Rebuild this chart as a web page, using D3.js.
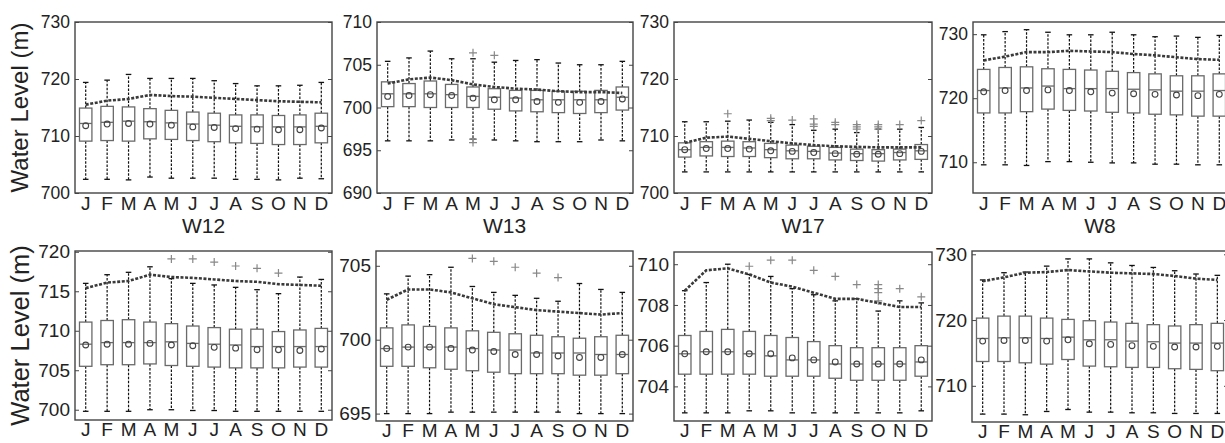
<!DOCTYPE html>
<html>
<head>
<meta charset="utf-8">
<script src="https://cdn.jsdelivr.net/npm/d3@7"></script>
<style>
  body { margin: 0; background: #fff; }
  text { font-family: "Liberation Sans", Arial, Helvetica, sans-serif; fill: #222; }
</style>
</head>
<body>
<svg id="chart" width="1225" height="443"></svg>
<script>
// month labels and well names
var months = ["J","F","M","A","M","J","J","A","S","O","N","D"];
var wells = ["W12","W13","W17","W8","W12","W13","W17","W8"];

// y axis ranges and ticks per panel (top row first, then bottom row)
var yDomains = [[700,730],[690,710],[700,730],[705.2,731.9],[698.7,720.1],[694.5,706],[702.3,710.6],[704.5,730.5]];
var yTicks = [[700,710,720,730],[690,695,700,705,710],[700,710,720,730],[710,720,730],
              [700,705,710,715,720],[695,700,705],[704,706,708,710],[710,720,730]];

// box statistics, one row of 12 months per panel
var whiskerHigh = [
  [719.4,719.8,720.8,720.1,720.1,720.1,719.7,719.2,718.8,718.8,718.9,719.4],
  [705.4,705.8,706.6,705.7,705.7,705.3,705.5,705.6,705.2,705.0,705.0,705.4],
  [712.5,712.5,712.6,712.8,712.4,712.0,711.0,711.2,710.6,711.2,711.2,711.5],
  [729.9,730.4,730.7,730.3,729.9,729.9,730.3,729.9,729.6,729.7,729.5,729.8],
  [716.0,717.1,717.4,718.1,716.6,716.0,715.8,715.5,715.2,714.7,716.8,716.5],
  [703.1,704.3,704.4,704.9,703.6,703.2,703.0,702.8,702.6,703.8,703.4,703.2],
  [708.7,709.1,710.0,709.5,709.4,708.8,708.5,708.2,708.3,707.7,708.2,708.1],
  [726.1,727.2,727.3,728.2,729.3,729.3,728.7,728.3,728.0,727.5,727.0,726.8]
];
var q3 = [
  [714.9,715.2,715.1,714.8,714.5,714.2,714.0,713.7,713.7,713.6,713.7,714.0],
  [703.0,702.8,703.1,702.7,702.4,702.2,702.0,702.0,701.9,701.9,702.0,702.4],
  [708.8,709.0,709.1,709.0,708.7,708.4,708.2,708.0,707.7,707.6,707.7,708.5],
  [724.5,724.8,724.9,724.6,724.5,724.4,724.2,724.0,723.8,723.5,723.5,723.8],
  [711.1,711.3,711.4,711.1,710.9,710.6,710.4,710.2,710.2,709.9,710.1,710.3],
  [700.8,701.0,700.9,700.8,700.6,700.5,700.4,700.3,700.2,700.1,700.2,700.3],
  [706.5,706.7,706.8,706.7,706.5,706.4,706.2,706.0,705.9,705.9,705.9,706.0],
  [720.3,720.6,720.6,720.3,720.1,719.9,719.7,719.5,719.3,719.1,719.3,719.5]
];
var medians = [
  [712.2,712.4,712.6,712.5,712.3,712.1,711.9,711.7,711.6,711.6,711.6,711.7],
  [701.6,701.6,701.6,701.5,701.3,701.2,701.1,700.9,700.9,700.9,700.9,701.2],
  [707.6,708.0,708.0,707.9,707.6,707.4,707.3,707.0,706.9,706.9,707.1,707.4],
  [721.2,721.6,721.6,721.9,721.5,721.5,721.5,721.4,721.3,721.1,721.1,721.2],
  [708.3,708.5,708.5,708.5,708.6,708.4,708.3,708.2,708.0,708.0,708.0,708.0],
  [699.4,699.5,699.5,699.5,699.4,699.3,699.3,699.1,699.1,699.1,699.0,699.0],
  [705.6,705.7,705.7,705.6,705.5,705.3,705.3,705.1,705.1,705.1,705.1,705.2],
  [717.2,717.3,717.3,717.2,717.4,717.0,717.0,716.8,716.7,716.5,716.5,716.5]
];
var means = [
  [711.8,712.1,712.2,712.1,711.9,711.6,711.5,711.3,711.2,711.1,711.1,711.4],
  [701.3,701.4,701.5,701.4,701.1,700.9,700.9,700.7,700.6,700.6,700.7,701.0],
  [707.6,707.8,707.8,707.7,707.4,707.3,707.1,706.9,706.8,706.8,706.9,707.3],
  [721.0,721.2,721.2,721.3,721.2,721.0,720.8,720.7,720.6,720.5,720.4,720.6],
  [708.2,708.3,708.3,708.4,708.2,708.1,707.9,707.8,707.6,707.6,707.5,707.7],
  [699.4,699.5,699.5,699.4,699.3,699.2,699.0,699.0,698.9,698.8,698.8,699.0],
  [705.6,705.7,705.7,705.6,705.6,705.4,705.3,705.2,705.1,705.1,705.1,705.3],
  [716.8,716.9,716.9,716.8,717.0,716.4,716.3,716.1,716.0,715.9,715.9,716.0]
];
var q1 = [
  [709.1,709.2,709.1,709.5,709.4,709.2,709.0,708.8,708.7,708.5,708.5,708.8],
  [700.1,700.1,700.0,700.0,700.0,699.8,699.6,699.5,699.4,699.3,699.4,699.7],
  [706.3,706.5,706.4,706.4,706.2,706.0,706.0,705.8,705.7,705.6,705.8,705.9],
  [717.7,717.7,717.9,718.3,718.1,718.0,717.8,717.7,717.5,717.4,717.2,717.2],
  [705.5,705.7,705.7,705.8,705.6,705.5,705.4,705.3,705.3,705.3,705.4,705.4],
  [698.2,698.2,698.1,698.0,697.9,697.8,697.7,697.7,697.7,697.6,697.6,697.7],
  [704.6,704.6,704.6,704.6,704.5,704.5,704.5,704.4,704.3,704.3,704.3,704.5],
  [713.7,713.7,713.5,713.3,714.0,713.0,712.9,712.8,712.8,712.6,712.5,712.3]
];
var whiskerLow = [
  [702.4,702.4,702.3,702.8,702.6,702.6,702.6,702.4,702.4,702.3,702.6,702.5],
  [696.1,696.1,696.1,696.2,696.3,696.2,696.1,696.0,696.0,696.0,696.2,696.1],
  [703.7,703.7,703.7,703.7,703.7,703.7,703.7,703.7,703.7,703.7,703.7,703.7],
  [709.6,709.6,709.5,710.1,710.1,710.0,709.9,709.9,709.7,709.7,709.6,709.6],
  [699.8,699.8,699.8,700.0,700.0,699.9,699.9,699.8,699.8,699.8,699.8,699.8],
  [695.0,695.0,695.0,695.1,695.1,695.1,695.1,695.1,695.1,695.0,695.0,695.0],
  [702.7,702.7,702.7,702.8,702.8,702.7,702.7,702.7,702.7,702.7,702.7,702.8],
  [705.7,705.7,705.6,706.1,706.4,706.0,706.0,705.9,705.9,705.8,705.8,705.8]
];
// dashed monthly curve drawn over the boxes
var trend = [
  [715.5,716.2,716.5,717.2,717.0,716.9,716.7,716.5,716.3,716.1,716.0,715.9],
  [702.8,703.3,703.5,703.2,702.7,702.4,702.2,702.1,701.9,701.8,701.8,701.7],
  [708.8,709.7,709.9,709.5,709.1,708.7,708.4,708.2,708.1,708.0,708.0,708.0],
  [725.9,726.5,727.2,727.2,727.4,727.3,727.2,726.9,726.7,726.4,726.1,726.0],
  [715.4,716.1,716.3,717.1,716.8,716.7,716.5,716.3,716.2,715.9,715.8,715.7],
  [702.7,703.4,703.4,703.2,702.8,702.4,702.2,702.0,701.9,701.8,701.7,701.8],
  [708.7,709.7,709.8,709.5,709.1,708.9,708.6,708.3,708.3,708.1,707.9,707.9],
  [725.9,726.5,727.2,727.3,727.6,727.4,727.2,727.1,727.0,726.7,726.3,726.1]
];
// outliers as [month index, value]
var outliers = [
  [],
  [[4,706.4],[4,696.3],[4,695.9],[5,706.1]],
  [[2,713.9],[4,713.1],[4,712.7],[5,712.8],[6,713.0],[6,712.1],[6,711.7],[7,712.4],[7,712.0],
   [8,712.0],[8,711.6],[8,711.2],[9,712.0],[9,711.6],[9,711.2],[10,712.0],[11,712.7]],
  [],
  [[4,719.1],[5,719.1],[6,718.7],[7,718.2],[8,717.9],[9,717.3]],
  [[4,705.5],[5,705.3],[6,704.9],[7,704.5],[8,704.2]],
  [[3,709.9],[4,710.2],[5,710.2],[6,709.7],[7,709.4],[8,709.0],[9,709.0],[9,708.8],[9,708.6],[9,708.2],[10,708.8],[11,708.4]],
  []
];

// panel frames in pixels
var frames = [
  {x0: 75, x1: 332, y0: 22, y1: 193, row: 0},
  {x0: 377, x1: 633, y0: 22, y1: 193, row: 0},
  {x0: 674, x1: 932, y0: 22, y1: 193, row: 0},
  {x0: 973, x1: 1230, y0: 22, y1: 193, row: 0},
  {x0: 75, x1: 332, y0: 251, y1: 420, row: 1},
  {x0: 376, x1: 633, y0: 251, y1: 421, row: 1},
  {x0: 674, x1: 932, y0: 252, y1: 421, row: 1},
  {x0: 972, x1: 1228, y0: 251, y1: 422, row: 1}
];
var rowFont = [
  {tick: 17.5, month: 19, ylab: 24, pad: 4},
  {tick: 19, month: 19, ylab: 25.5, pad: 2}
];

var svg = d3.select("#chart");
var boxColor = "#6a6a6a";

frames.forEach(function (f, p) {
  var fs = rowFont[f.row];
  var x = d3.scaleBand().domain(d3.range(12)).range([f.x0, f.x1]).padding(0);
  var y = d3.scaleLinear().domain(yDomains[p]).range([f.y1, f.y0]);
  var bw = x.bandwidth();
  var cx = function (i) { return x(i) + bw / 2; };
  var g = svg.append("g");

  // y axis, ticks pointing inward on both sides
  var yl = g.append("g").attr("transform", "translate(" + f.x0 + ",0)")
    .call(d3.axisLeft(y).tickValues(yTicks[p]).tickSizeInner(-4).tickSizeOuter(0).tickPadding(5));
  yl.select(".domain").remove();
  yl.selectAll("line").attr("stroke", "#444");
  yl.selectAll("text").style("font-size", fs.tick + "px").attr("fill", "#222");
  var yr = g.append("g").attr("transform", "translate(" + f.x1 + ",0)")
    .call(d3.axisRight(y).tickValues(yTicks[p]).tickSizeInner(-4).tickSizeOuter(0).tickFormat(""));
  yr.select(".domain").remove();
  yr.selectAll("line").attr("stroke", "#444");

  // month labels
  var xa = g.append("g").attr("transform", "translate(0," + f.y1 + ")")
    .call(d3.axisBottom(x).tickFormat(function (i) { return months[i]; }).tickSize(0).tickPadding(fs.pad));
  xa.select(".domain").remove();
  xa.selectAll("text").style("font-size", fs.month + "px").attr("fill", "#222");

  var idx = d3.range(12);
  var half = bw * 0.29, cap = bw * 0.13;

  // whiskers
  g.selectAll(".wu").data(idx).enter().append("line")
    .attr("x1", cx).attr("x2", cx)
    .attr("y1", function (i) { return y(q3[p][i]); })
    .attr("y2", function (i) { return y(whiskerHigh[p][i]); })
    .attr("stroke", "#111").attr("stroke-width", 1.2).attr("stroke-dasharray", "2.5,1.5");
  g.selectAll(".wl").data(idx).enter().append("line")
    .attr("x1", cx).attr("x2", cx)
    .attr("y1", function (i) { return y(q1[p][i]); })
    .attr("y2", function (i) { return y(whiskerLow[p][i]); })
    .attr("stroke", "#111").attr("stroke-width", 1.2).attr("stroke-dasharray", "2.5,1.5");
  g.selectAll(".cu").data(idx).enter().append("line")
    .attr("x1", function (i) { return cx(i) - cap; }).attr("x2", function (i) { return cx(i) + cap; })
    .attr("y1", function (i) { return y(whiskerHigh[p][i]); })
    .attr("y2", function (i) { return y(whiskerHigh[p][i]); })
    .attr("stroke", "#111").attr("stroke-width", 1.3);
  g.selectAll(".cl").data(idx).enter().append("line")
    .attr("x1", function (i) { return cx(i) - cap; }).attr("x2", function (i) { return cx(i) + cap; })
    .attr("y1", function (i) { return y(whiskerLow[p][i]); })
    .attr("y2", function (i) { return y(whiskerLow[p][i]); })
    .attr("stroke", "#111").attr("stroke-width", 1.3);

  // boxes + medians
  g.selectAll(".bx").data(idx).enter().append("rect")
    .attr("x", function (i) { return cx(i) - half; })
    .attr("y", function (i) { return y(q3[p][i]); })
    .attr("width", half * 2)
    .attr("height", function (i) { return y(q1[p][i]) - y(q3[p][i]); })
    .attr("fill", "#fff").attr("stroke", boxColor).attr("stroke-width", 1.3);
  g.selectAll(".md").data(idx).enter().append("line")
    .attr("x1", function (i) { return cx(i) - half; }).attr("x2", function (i) { return cx(i) + half; })
    .attr("y1", function (i) { return y(medians[p][i]); })
    .attr("y2", function (i) { return y(medians[p][i]); })
    .attr("stroke", boxColor).attr("stroke-width", 1.3);
  g.selectAll(".mn").data(idx).enter().append("circle")
    .attr("cx", cx).attr("cy", function (i) { return y(means[p][i]); })
    .attr("r", 2.9).attr("fill", "none").attr("stroke", "#444").attr("stroke-width", 1.1);

  // outliers as plus signs
  g.selectAll(".ol").data(outliers[p]).enter().append("path")
    .attr("d", function (d) {
      var px = cx(d[0]), py = y(d[1]), s = 4;
      return "M" + (px - s) + "," + py + "H" + (px + s) + "M" + px + "," + (py - s) + "V" + (py + s);
    })
    .attr("stroke", "#888").attr("stroke-width", 1.2).attr("fill", "none");

  // dashed curve
  g.append("path").datum(trend[p])
    .attr("d", d3.line().x(function (d, i) { return cx(i); }).y(function (d) { return y(d); }))
    .attr("fill", "none").attr("stroke", "#3a3a3a").attr("stroke-width", 2.6)
    .attr("stroke-dasharray", "3,1.6");

  // frame
  g.append("rect").attr("x", f.x0).attr("y", f.y0)
    .attr("width", f.x1 - f.x0).attr("height", f.y1 - f.y0)
    .attr("fill", "none").attr("stroke", "#444").attr("stroke-width", 1.4);

  if (f.row === 1) {
    svg.append("text").attr("x", (f.x0 + f.x1) / 2).attr("y", 233)
      .attr("text-anchor", "middle").style("font-size", "21px").text(wells[p]);
  }
  if (p % 4 === 0) {
    svg.append("text")
      .attr("transform", "translate(20," + ((f.y0 + f.y1) / 2) + ") rotate(-90)")
      .attr("text-anchor", "middle").attr("dy", "0.35em")
      .style("font-size", fs.ylab + "px").text("Water Level (m)");
  }
});
</script>
</body>
</html>
